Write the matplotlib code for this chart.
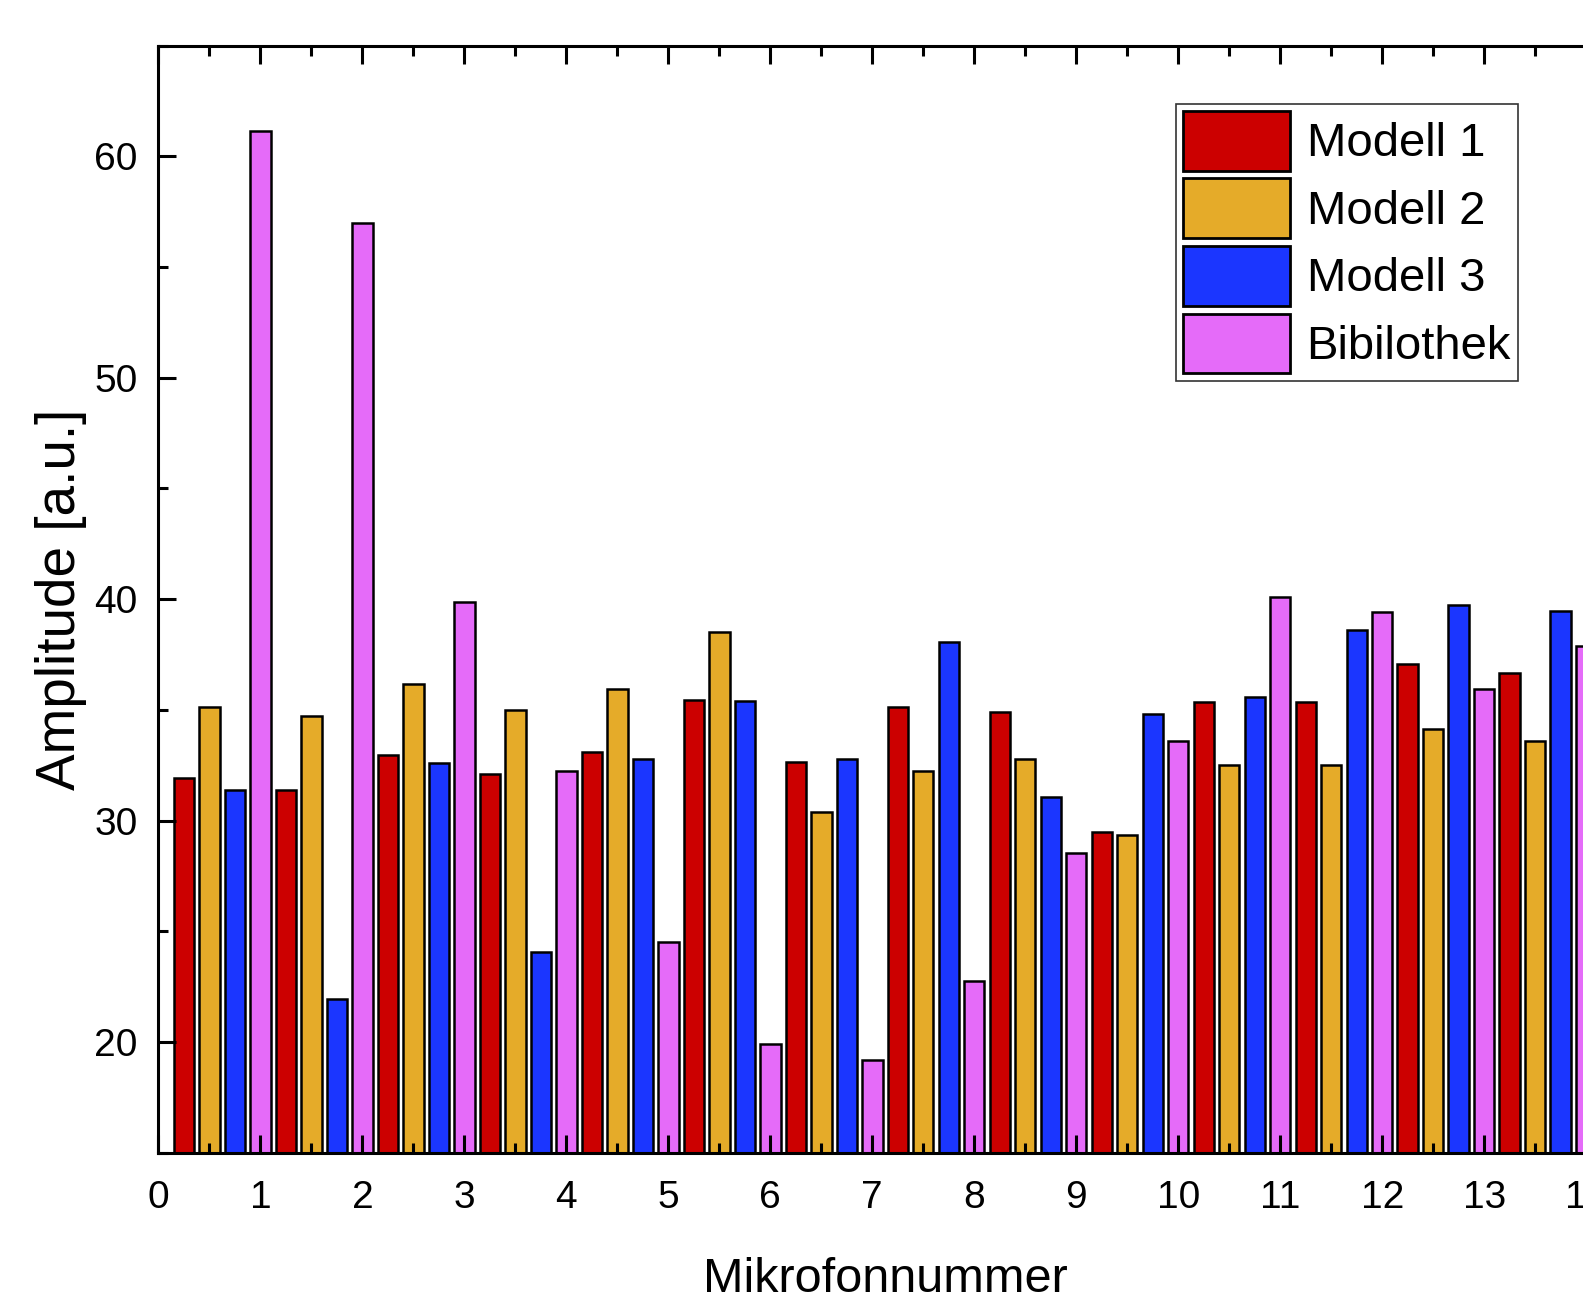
import matplotlib.pyplot as plt
import numpy as np
from matplotlib.ticker import MultipleLocator

plt.rcParams['font.family'] = ['Liberation Sans', 'DejaVu Sans']

# Messwerte je Mikrofon
mikrofon = np.arange(1, 15)
modell_1 = [31.9, 31.4, 32.95, 32.1, 33.1, 35.45, 32.65, 35.15, 34.9, 29.5, 35.35, 35.35, 37.05, 36.65]
modell_2 = [35.15, 34.7, 36.15, 35.0, 35.95, 38.5, 30.4, 32.25, 32.8, 29.35, 32.5, 32.5, 34.15, 33.6]
modell_3 = [31.4, 21.95, 32.6, 24.05, 32.8, 35.4, 32.8, 38.05, 31.05, 34.8, 35.6, 38.6, 39.75, 39.45]
bibliothek = [61.15, 56.98, 39.85, 32.25, 24.5, 19.9, 19.2, 22.75, 28.55, 33.6, 40.1, 39.4, 35.95, 37.9]

reihen = ['Modell 1', 'Modell 2', 'Modell 3', 'Bibilothek']
farben = ['#CC0000', '#E5AB29', '#1B36FF', '#E56BF9']
versatz = [-0.75, -0.5, -0.25, 0.0]

fig = plt.figure(figsize=(15.83, 12.98), dpi=100)
ax = fig.add_axes([0.1001, 0.112, 0.918, 0.8528])

for werte, name, farbe, dx in zip([modell_1, modell_2, modell_3, bibliothek], reihen, farben, versatz):
    ax.bar(mikrofon + dx, werte, width=0.2, color=farbe, edgecolor='black',
           linewidth=1.8, label=name)

ax.set_xlim(0, 14.25)
ax.set_ylim(15, 65)
ax.xaxis.set_major_locator(MultipleLocator(1))
ax.xaxis.set_minor_locator(MultipleLocator(0.5))
ax.yaxis.set_major_locator(MultipleLocator(10))
ax.yaxis.set_minor_locator(MultipleLocator(5))

for s in ax.spines.values():
    s.set_linewidth(2.2)
ax.tick_params(which='both', direction='in', top=True, right=True, width=2.2)
ax.tick_params(which='major', length=13, labelsize=28)
ax.tick_params(axis='x', which='major', pad=20)
ax.tick_params(axis='y', which='major', pad=15)
ax.tick_params(which='minor', length=7)

ax.set_xlabel('Mikrofonnummer', fontsize=35)
ax.set_ylabel('Amplitude [a.u.]', fontsize=39.5)
ax.xaxis.set_label_coords(0.5, -0.094)
ax.yaxis.set_label_coords(-0.049, 0.5)

leg = ax.legend(loc='upper left', bbox_to_anchor=(0.743, 0.92), bbox_transform=fig.transFigure,
                fontsize=34, fancybox=False, edgecolor='#333333', framealpha=1,
                handlelength=2.27, handleheight=1.577, handletextpad=0.34,
                labelspacing=0.16, borderpad=0.15, borderaxespad=0)
leg.get_frame().set_linewidth(1.2)
for p in leg.get_patches():
    p.set_linewidth(2.0)

fig.savefig('out.png', dpi=100)
